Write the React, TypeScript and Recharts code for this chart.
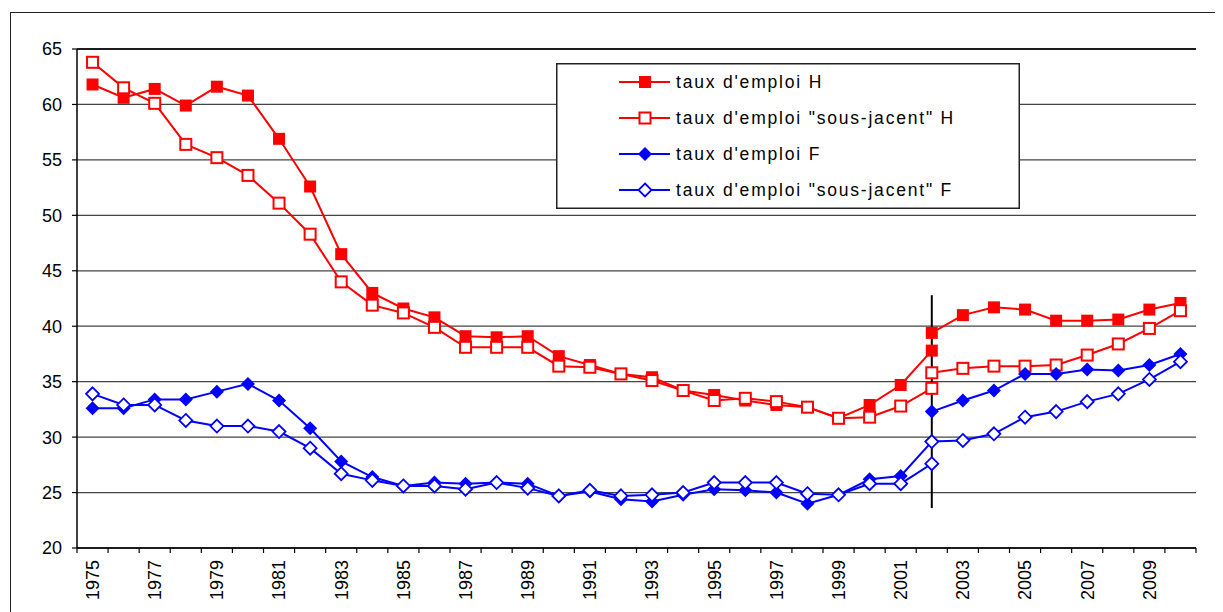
import React from 'react'
import {
  LineChart,
  Line,
  XAxis,
  YAxis,
  CartesianGrid,
  ReferenceLine,
  Legend,
} from 'recharts'

const years = [
  '1975', '1976', '1977', '1978', '1979', '1980', '1981', '1982', '1983',
  '1984', '1985', '1986', '1987', '1988', '1989', '1990', '1991', '1992',
  '1993', '1994', '1995', '1996', '1997', '1998', '1999', '2000', '2001',
  '2002', '2003', '2004', '2005', '2006', '2007', '2008', '2009', '2010',
]

// ancienne série : 1975 -> 2002, nouvelle série : 2002 -> 2010
const tauxH_avant = [
  61.8, 60.6, 61.4, 59.9, 61.6, 60.8, 56.9, 52.6, 46.5, 43.0, 41.6, 40.8, 39.1, 39.0,
  39.1, 37.3, 36.5, 35.7, 35.4, 34.2, 33.8, 33.3, 32.9, 32.7, 31.7, 32.9, 34.7, 37.8,
]
const tauxH_apres = [39.4, 41.0, 41.7, 41.5, 40.5, 40.5, 40.6, 41.5, 42.1]

const sjH_avant = [
  63.8, 61.5, 60.1, 56.4, 55.2, 53.6, 51.1, 48.3, 44.0, 41.9, 41.2, 39.9, 38.1, 38.1,
  38.1, 36.4, 36.3, 35.7, 35.1, 34.2, 33.3, 33.5, 33.2, 32.7, 31.7, 31.8, 32.8, 34.4,
]
const sjH_apres = [35.8, 36.2, 36.4, 36.4, 36.5, 37.4, 38.4, 39.8, 41.4]

const tauxF_avant = [
  32.6, 32.6, 33.4, 33.4, 34.1, 34.8, 33.3, 30.8, 27.8, 26.4, 25.6, 25.9, 25.8, 25.9,
  25.8, 24.7, 25.1, 24.4, 24.2, 24.8, 25.3, 25.2, 25.0, 24.0, 24.8, 26.2, 26.5, 29.6,
]
const tauxF_apres = [32.3, 33.3, 34.2, 35.7, 35.7, 36.1, 36.0, 36.5, 37.5]

const sjF_avant = [
  33.9, 32.9, 32.9, 31.5, 31.0, 31.0, 30.5, 29.0, 26.7, 26.1, 25.6, 25.6, 25.3, 25.9,
  25.4, 24.7, 25.2, 24.7, 24.8, 25.0, 25.9, 25.9, 25.9, 24.9, 24.8, 25.8, 25.8, 27.6,
]
const sjF_apres = [29.6, 29.7, 30.3, 31.8, 32.3, 33.2, 33.9, 35.2, 36.8]

const yTicks = [20, 25, 30, 35, 40, 45, 50, 55, 60, 65]
const rupture = '2002'
const ruptureBas = 23.6
const ruptureHaut = 42.8

const RED = '#ff0000'
const BLUE = '#0000ff'
const FONT = 'Arial, "Liberation Sans", sans-serif'

const idxRupture = years.indexOf(rupture)

const data = years.map((year, i) => ({
  year,
  hA: i <= idxRupture ? tauxH_avant[i] : null,
  hB: i >= idxRupture ? tauxH_apres[i - idxRupture] : null,
  shA: i <= idxRupture ? sjH_avant[i] : null,
  shB: i >= idxRupture ? sjH_apres[i - idxRupture] : null,
  fA: i <= idxRupture ? tauxF_avant[i] : null,
  fB: i >= idxRupture ? tauxF_apres[i - idxRupture] : null,
  sfA: i <= idxRupture ? sjF_avant[i] : null,
  sfB: i >= idxRupture ? sjF_apres[i - idxRupture] : null,
}))

type Shape = 'square' | 'diamond'

function Marker({ cx, cy, shape, color, filled }: { cx: number; cy: number; shape: Shape; color: string; filled: boolean }) {
  if (shape === 'square') {
    return filled
      ? <rect x={cx - 6} y={cy - 6} width={12} height={12} fill={color} />
      : <rect x={cx - 5.5} y={cy - 5.5} width={11} height={11} fill="#fff" stroke={color} strokeWidth={2} />
  }
  const r = filled ? 7 : 6.5
  const pts = `${cx},${cy - r} ${cx + r},${cy} ${cx},${cy + r} ${cx - r},${cy}`
  return filled
    ? <polygon points={pts} fill={color} />
    : <polygon points={pts} fill="#fff" stroke={color} strokeWidth={1.8} />
}

const makeDot = (shape: Shape, color: string, filled: boolean) => (props: any) => {
  const { cx, cy, index, value } = props
  if (value == null || typeof cy !== 'number' || isNaN(cy)) return <g key={index} />
  return (
    <g key={index}>
      <Marker cx={cx} cy={cy} shape={shape} color={color} filled={filled} />
    </g>
  )
}

const series = [
  { label: "taux d'emploi H", color: RED, shape: 'square' as Shape, filled: true },
  { label: 'taux d\'emploi "sous-jacent" H', color: RED, shape: 'square' as Shape, filled: false },
  { label: "taux d'emploi F", color: BLUE, shape: 'diamond' as Shape, filled: true },
  { label: 'taux d\'emploi "sous-jacent" F', color: BLUE, shape: 'diamond' as Shape, filled: false },
]

const lines = [
  { key: 'hA', s: 0 }, { key: 'hB', s: 0 },
  { key: 'shA', s: 1 }, { key: 'shB', s: 1 },
  { key: 'fA', s: 2 }, { key: 'fB', s: 2 },
  { key: 'sfA', s: 3 }, { key: 'sfB', s: 3 },
]

const PLOT_W = 1119
const HALF_BAND = PLOT_W / years.length / 2

const YearTick = (props: any) => {
  const { x, y, payload, index } = props
  const i = years.indexOf(payload.value)
  return (
    <g transform={`translate(${x},${y})`} key={index}>
      <line x1={-HALF_BAND} x2={-HALF_BAND} y1={0} y2={5} stroke="#000" strokeWidth={1.2} />
      {i === years.length - 1 && (
        <line x1={HALF_BAND} x2={HALF_BAND} y1={0} y2={5} stroke="#000" strokeWidth={1.2} />
      )}
      {i % 2 === 0 && (
        <text transform="rotate(-90)" x={-12} y={0} dy="0.35em" textAnchor="end" fontSize={18} fontFamily={FONT} fill="#000">
          {payload.value}
        </text>
      )}
    </g>
  )
}

const renderLegend = () => (
  <svg width={464} height={146} style={{ display: 'block' }}>
    <rect x={0.75} y={0.75} width={462.5} height={144.5} fill="#fff" stroke="#222" strokeWidth={1.5} />
    {series.map((s, i) => {
      const cy = 19 + i * 36
      return (
        <g key={s.label}>
          <line x1={63} x2={114} y1={cy} y2={cy} stroke={s.color} strokeWidth={2} />
          <Marker cx={89} cy={cy} shape={s.shape} color={s.color} filled={s.filled} />
          <text x={120} y={cy} dy="0.35em" fontSize={17.5} letterSpacing={1.8} fontFamily={FONT} fill="#000">
            {s.label}
          </text>
        </g>
      )
    })}
  </svg>
)

export default function App() {
  return (
    <div style={{ position: 'relative', width: 1215, height: 604, fontFamily: FONT }}>
      <div
        style={{
          position: 'absolute',
          left: 2,
          top: 4,
          width: 1213,
          height: 600,
          borderLeft: '1.5px solid #222',
          borderTop: '1.5px solid #222',
        }}
      />
      <LineChart
        width={1215}
        height={604}
        data={data}
        margin={{ top: 41, right: 27, left: 0, bottom: 0 }}
      >
        <CartesianGrid vertical={false} stroke="#444" strokeWidth={1.3} />
        <XAxis
          dataKey="year"
          height={64}
          interval={0}
          padding={{ left: HALF_BAND, right: HALF_BAND }}
          tickSize={0}
          tickMargin={0}
          tick={<YearTick />}
          axisLine={{ stroke: '#000', strokeWidth: 1.5 }}
          tickLine={false}
        />
        <YAxis
          domain={[20, 65]}
          ticks={yTicks}
          width={69}
          tickSize={5}
          tickMargin={10}
          tick={{ fontSize: 18, fill: '#000', fontFamily: FONT }}
          tickLine={{ stroke: '#000', strokeWidth: 1.2 }}
          axisLine={{ stroke: '#000', strokeWidth: 1.5 }}
          allowDataOverflow
        />
        <YAxis
          yAxisId="droite"
          orientation="right"
          domain={[20, 65]}
          width={0}
          tick={false}
          tickLine={false}
          axisLine={{ stroke: '#000', strokeWidth: 2 }}
        />
        <ReferenceLine y={65} stroke="#000" strokeWidth={1.5} />
        {lines.map(({ key, s }) => (
          <Line
            key={key}
            dataKey={key}
            type="linear"
            stroke={series[s].color}
            strokeWidth={2}
            dot={makeDot(series[s].shape, series[s].color, series[s].filled)}
            activeDot={false}
            legendType="none"
            isAnimationActive={false}
          />
        ))}
        <ReferenceLine
          segment={[
            { x: rupture, y: ruptureBas },
            { x: rupture, y: ruptureHaut },
          ]}
          stroke="#000"
          strokeWidth={2}
        />
        <Legend
          layout="vertical"
          align="center"
          verticalAlign="middle"
          content={renderLegend}
          wrapperStyle={{ left: 548, top: 55, width: 464, height: 146 }}
        />
      </LineChart>
    </div>
  )
}
